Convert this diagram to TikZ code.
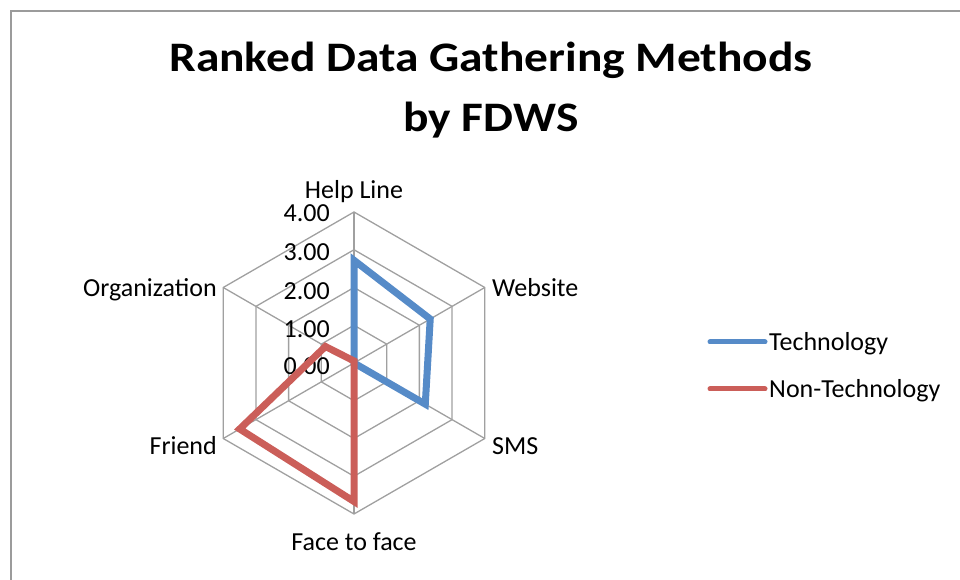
\documentclass[tikz,border=0pt]{standalone}
\usepackage{fontspec}
\setmainfont{Carlito}
\newfontfamily\titlefont{Carlito}[FakeStretch=1.13]
\usepackage{tikz}
\usetikzlibrary{positioning}
\definecolor{techblue}{RGB}{86,139,200}
\definecolor{nontechred}{RGB}{203,94,89}
\definecolor{gridgray}{RGB}{160,160,160}
\definecolor{framegray}{RGB}{155,155,155}

\begin{document}
\begin{tikzpicture}[x=1pt,y=1pt,
  gridline/.style={draw=gridgray,line width=1.3pt},
  techline/.style={draw=techblue,line width=7pt},
  nontechline/.style={draw=nontechred,line width=7pt},
  catlabel/.style={font=\fontsize{26}{30}\selectfont,text=black,inner sep=0pt},
  ticklabel/.style={font=\fontsize{26}{30}\selectfont,text=black,inner sep=0pt,anchor=base east},
  titlelabel/.style={font=\titlefont\bfseries\fontsize{42}{48}\selectfont,text=black,inner sep=0pt,anchor=base}]
\useasboundingbox (0,0) rectangle (960,580);
\draw[framegray,line width=1.5pt] (11,0) -- (11,569) -- (960,569);

\node[titlelabel] (title1) at (491,508.3) {Ranked Data Gathering Methods};
\node[titlelabel] (title2) at (491,448.3) {by FDWS};

\begin{scope}[shift={(354,217)}]
\draw[gridline] (90:37.75) -- (30:37.75) -- (-30:37.75) -- (-90:37.75) -- (-150:37.75) -- (150:37.75) -- cycle;
\draw[gridline] (90:75.5) -- (30:75.5) -- (-30:75.5) -- (-90:75.5) -- (-150:75.5) -- (150:75.5) -- cycle;
\draw[gridline] (90:113.25) -- (30:113.25) -- (-30:113.25) -- (-90:113.25) -- (-150:113.25) -- (150:113.25) -- cycle;
\draw[gridline] (90:151) -- (30:151) -- (-30:151) -- (-90:151) -- (-150:151) -- (150:151) -- cycle;
\draw[gridline] (0,0) -- (90:151);
\draw[gridline] (0,0) -- (30:151);
\draw[gridline] (0,0) -- (-30:151);
\draw[gridline] (0,0) -- (-90:151);
\draw[gridline] (0,0) -- (-150:151);
\draw[gridline] (0,0) -- (150:151);

\node[ticklabel] (t0) at (-24,-11.5) {0.00};
\node[ticklabel] (t1) at (-24,25.5) {1.00};
\node[ticklabel] (t2) at (-24,63.5) {2.00};
\node[ticklabel] (t3) at (-24,102.5) {3.00};
\node[ticklabel] (t4) at (-24,141) {4.00};

\node[catlabel,anchor=base] (helpline) at (0,164) {Help Line};
\node[catlabel,anchor=base west] (website) at (138,66.7) {Website};
\node[catlabel,anchor=base west] (sms) at (138,-91.3) {SMS};
\node[catlabel,anchor=base] (facetoface) at (0,-188) {Face to face};
\node[catlabel,anchor=base east] (friend) at (-137,-91.3) {Friend};
\node[catlabel,anchor=base east] (organization) at (-137,66.7) {Organization};

% Technology
\coordinate (tHL) at (90:102.7);
\coordinate (tWEB) at (30:88);
\coordinate (tSMS) at (-30:82.3);
\coordinate (tF2F) at (0,0);
\draw[techline] (tHL) -- (tWEB) -- (tSMS) -- (tF2F) -- cycle;

% Non-Technology
\coordinate (nHL) at (90:2);
\coordinate (nF2F) at (-90:138.5);
\coordinate (nFR) at (-150:132);
\coordinate (nORG) at (150:33);
\draw[nontechline] (nHL) -- (nF2F) -- (nFR) -- (nORG) -- cycle;
\end{scope}

\coordinate (legtech) at (710,238);
\coordinate (legnon) at (710,191);
\draw[techblue,line width=5pt,line cap=round] (legtech) -- ++(55,0) coordinate (legtechend);
\node[catlabel,anchor=base west] (techtext) at (769,229) {Technology};
\draw[nontechred,line width=5pt,line cap=round] (legnon) -- ++(55,0) coordinate (legnonend);
\node[catlabel,anchor=base west] (nontext) at (769,182) {Non-Technology};

\end{tikzpicture}
\end{document}
